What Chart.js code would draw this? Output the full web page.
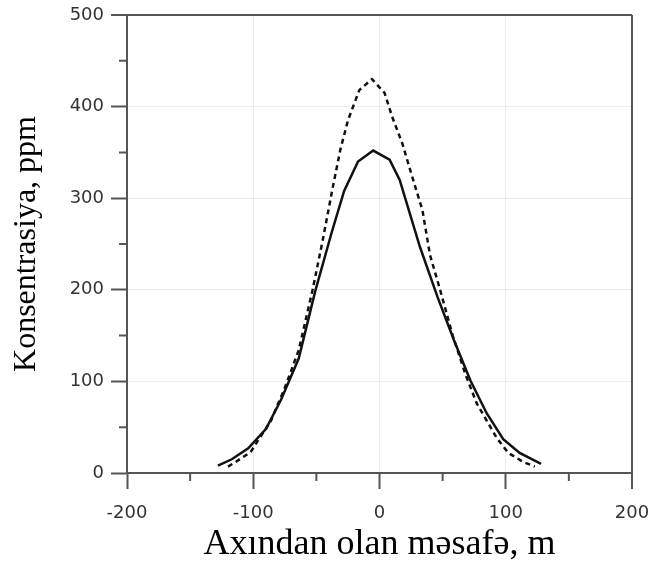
<!DOCTYPE html>
<html>
<head>
<meta charset="utf-8">
<script src="https://cdn.jsdelivr.net/npm/chart.js@4.4.1/dist/chart.umd.min.js"></script>
<style>
  html, body { margin: 0; padding: 0; background: #fff; }
  #wrap { width: 653px; height: 563px; }
</style>
</head>
<body>
<div id="wrap"><canvas id="c" width="653" height="563"></canvas></div>
<script>
// distance from the plume axis, m / concentration, ppm
const solidX = [-128, -117, -104, -90, -78, -64, -51, -38, -28, -17, -5, 8, 16, 32, 46, 59, 72, 85, 98, 111, 128];
const solidY = [8, 15, 27, 48, 80, 125, 198, 262, 308, 340, 352, 342, 320, 247, 192, 145, 101, 65, 37, 22, 10];
const dashX = [-120, -114, -102, -95, -86, -75, -64, -53, -45, -37, -31, -25, -16, -6, 4, 10, 18, 26, 34, 40, 48, 58, 68, 77, 85, 93, 102, 114, 123];
const dashY = [7, 12, 23, 38, 57, 93, 134, 200, 254, 312, 353, 385, 418, 430, 415, 389, 360, 323, 287, 238, 200, 150, 108, 76, 57, 38, 22, 12, 7];
const xTicks = [-200, -100, 0, 100, 200];
const yTicks = [0, 100, 200, 300, 400, 500];

const AXIS = '#555';
const pts = (xs, ys) => xs.map((x, i) => ({ x, y: ys[i] }));

// short minor ticks (Chart.js only has one tick length)
const minorTicks = {
  id: 'minorTicks',
  afterDraw(chart) {
    const { ctx, chartArea: a, scales: { x, y } } = chart;
    ctx.save();
    ctx.strokeStyle = AXIS;
    ctx.lineWidth = 2;
    ctx.beginPath();
    x.ticks.forEach(t => {
      if (xTicks.includes(t.value)) return;
      const px = x.getPixelForValue(t.value);
      ctx.moveTo(px, a.bottom); ctx.lineTo(px, a.bottom + 8);
    });
    y.ticks.forEach(t => {
      if (yTicks.includes(t.value)) return;
      const py = y.getPixelForValue(t.value);
      ctx.moveTo(a.left - 8, py); ctx.lineTo(a.left, py);
    });
    ctx.stroke();
    ctx.restore();
  }
};

const tickFont = { family: 'DejaVu Sans', size: 18 };

new Chart(document.getElementById('c'), {
  type: 'line',
  data: {
    datasets: [
      { data: pts(solidX, solidY), borderColor: '#111', borderWidth: 2.5, pointRadius: 0, tension: 0 },
      { data: pts(dashX, dashY), borderColor: '#111', borderWidth: 2.5, borderDash: [5, 4], pointRadius: 0, tension: 0 }
    ]
  },
  options: {
    responsive: false,
    animation: false,
    layout: { padding: { top: 15, right: 21, left: 0, bottom: 0 } },
    plugins: { legend: { display: false }, tooltip: { enabled: false } },
    scales: {
      x: {
        type: 'linear', min: -200, max: 200,
        afterFit: s => { s.height = 90; s.paddingLeft = 0; s.paddingRight = 0; },
        ticks: {
          stepSize: 50, padding: 14, color: '#333', font: tickFont, maxRotation: 0,
          callback: v => xTicks.includes(v) ? String(v) : ''
        },
        grid: {
          tickLength: 16,
          lineWidth: c => c.tick && c.tick.value === 200 ? 2 : 1,
          color: c => !c.tick ? 'transparent' : c.tick.value === 200 ? AXIS : (xTicks.includes(c.tick.value) ? 'rgba(0,0,0,0.07)' : 'transparent'),
          tickColor: c => c.tick && xTicks.includes(c.tick.value) ? AXIS : 'transparent',
          tickWidth: 2
        },
        border: { color: AXIS, width: 2 },
        title: { display: true, text: 'Axından olan məsafə, m', color: '#000', font: { family: 'Liberation Serif', size: 36, lineHeight: 1 }, padding: 0 }
      },
      y: {
        min: 0, max: 500,
        afterFit: s => { s.width = 127; s.paddingTop = 0; s.paddingBottom = 0; },
        ticks: {
          stepSize: 50, padding: 7, color: '#333', font: tickFont,
          callback: v => yTicks.includes(v) ? String(v) : ''
        },
        grid: {
          tickLength: 16,
          lineWidth: c => c.tick && c.tick.value === 500 ? 2 : 1,
          color: c => !c.tick ? 'transparent' : c.tick.value === 500 ? AXIS : (yTicks.includes(c.tick.value) ? 'rgba(0,0,0,0.07)' : 'transparent'),
          tickColor: c => c.tick && yTicks.includes(c.tick.value) ? AXIS : 'transparent',
          tickWidth: 2
        },
        border: { color: AXIS, width: 2 },
        title: { display: true, text: 'Konsentrasiya, ppm', color: '#000', font: { family: 'Liberation Serif', size: 32, lineHeight: 1 }, padding: { top: 11 } }
      }
    }
  },
  plugins: [minorTicks]
});
</script>
</body>
</html>
